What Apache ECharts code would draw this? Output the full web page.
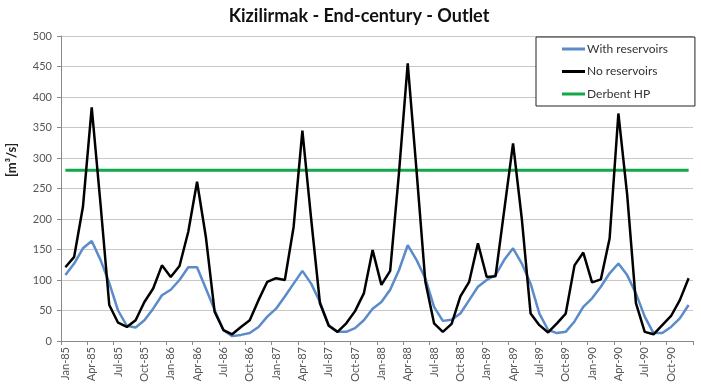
<!DOCTYPE html>
<html>
<head>
<meta charset="utf-8">
<script src="https://cdn.jsdelivr.net/npm/echarts@6/dist/echarts.min.js"></script>
<style>
html,body{margin:0;padding:0;background:#fff;}
#chart{width:701px;height:389px;}
</style>
</head>
<body>
<div id="chart"></div>
<script>
var categories = [
 'Jan-85','Feb-85','Mar-85','Apr-85','May-85','Jun-85','Jul-85','Aug-85','Sep-85','Oct-85','Nov-85','Dec-85',
 'Jan-86','Feb-86','Mar-86','Apr-86','May-86','Jun-86','Jul-86','Aug-86','Sep-86','Oct-86','Nov-86','Dec-86',
 'Jan-87','Feb-87','Mar-87','Apr-87','May-87','Jun-87','Jul-87','Aug-87','Sep-87','Oct-87','Nov-87','Dec-87',
 'Jan-88','Feb-88','Mar-88','Apr-88','May-88','Jun-88','Jul-88','Aug-88','Sep-88','Oct-88','Nov-88','Dec-88',
 'Jan-89','Feb-89','Mar-89','Apr-89','May-89','Jun-89','Jul-89','Aug-89','Sep-89','Oct-89','Nov-89','Dec-89',
 'Jan-90','Feb-90','Mar-90','Apr-90','May-90','Jun-90','Jul-90','Aug-90','Sep-90','Oct-90','Nov-90','Dec-90'
];
var withReservoirs = [
 108,127,152,164,133,95,50,25,22,34,53,75,
 84,100,121,121,86,51,18,8,10,13,23,40,
 53,73,94,115,94,64,26,15,15,21,34,53,
 64,84,116,157,133,103,56,33,35,45,67,89,
 100,108,133,152,127,94,45,18,13,15,32,56,
 70,89,111,127,108,78,40,13,13,23,37,59
];
var noReservoirs = [
 121,138,220,383,225,59,30,23,34,64,86,124,
 105,123,179,261,171,48,18,11,23,34,67,97,
 103,100,187,345,200,62,25,15,29,49,78,149,
 92,115,275,455,280,98,29,15,28,73,97,160,
 105,106,215,324,200,45,26,14,29,45,124,145,
 96,101,168,373,240,62,15,11,26,41,67,103
];
var derbentHP = [
 280,280,280,280,280,280,280,280,280,280,280,280,
 280,280,280,280,280,280,280,280,280,280,280,280,
 280,280,280,280,280,280,280,280,280,280,280,280,
 280,280,280,280,280,280,280,280,280,280,280,280,
 280,280,280,280,280,280,280,280,280,280,280,280,
 280,280,280,280,280,280,280,280,280,280,280,280
];
var seriesNames = ['With reservoirs','No reservoirs','Derbent HP'];
var titleText = 'Kizilirmak - End-century - Outlet';
var yAxisTitle = '[m³/s]';

var FONT = 'Lato, "Open Sans", sans-serif';
var chart = echarts.init(document.getElementById('chart'), null, {renderer:'canvas'});
chart.setOption({
  animation: false,
  backgroundColor: '#fff',
  title: {
    text: titleText, left: 354, textAlign: 'center', top: 2,
    textStyle: {fontFamily: FONT, fontSize: 18, fontWeight: 'bold', color: '#111'}
  },
  graphic: [{
    type: 'text', x: 5, y: 160, rotation: Math.PI/2,
    style: {text: yAxisTitle, fontFamily: FONT, fontSize: 13, fontWeight: 'bold', fill: '#222', align: 'center', verticalAlign: 'top'}
  }],
  legend: {
    data: seriesNames,
    orient: 'vertical',
    left: 536, top: 37,
    padding: [5, 27, 5, 26],
    borderColor: '#222', borderWidth: 1,
    backgroundColor: '#fff',
    icon: 'rect', itemWidth: 23, itemHeight: 3, itemGap: 8.5,
    textStyle: {fontFamily: FONT, fontSize: 12, color: '#333', lineHeight: 14, padding: [0,0,0,-3]}
  },
  grid: {left: 61, right: 8, top: 36, bottom: 48, containLabel: false},
  xAxis: {
    type: 'category', data: categories, boundaryGap: true,
    axisLine: {lineStyle: {color: '#8a8a8a', width: 1}},
    axisTick: {show: true, interval: 2, length: 4, lineStyle: {color: '#8a8a8a'}},
    axisLabel: {interval: 2, rotate: 90, fontFamily: FONT, fontSize: 11, color: '#555', margin: 6},
    splitLine: {show: false}
  },
  yAxis: {
    type: 'value', min: 0, max: 500, interval: 50,
    axisLine: {show: true, lineStyle: {color: '#8a8a8a', width: 1}},
    axisTick: {show: true, length: 4, lineStyle: {color: '#8a8a8a'}},
    axisLabel: {fontFamily: FONT, fontSize: 11, color: '#555', margin: 9},
    splitLine: {show: true, lineStyle: {color: '#c8c8c8', width: 1}}
  },
  series: [
    {name: seriesNames[0], type: 'line', data: withReservoirs, symbol: 'none',
     lineStyle: {color: '#5b8bc9', width: 2.5}, itemStyle: {color: '#5b8bc9'}, z: 3},
    {name: seriesNames[1], type: 'line', data: noReservoirs, symbol: 'none',
     lineStyle: {color: '#000', width: 2.5}, itemStyle: {color: '#000'}, z: 4},
    {name: seriesNames[2], type: 'line', data: derbentHP, symbol: 'none',
     lineStyle: {color: '#12a84a', width: 3}, itemStyle: {color: '#12a84a'}, z: 2}
  ]
});
</script>
</body>
</html>
